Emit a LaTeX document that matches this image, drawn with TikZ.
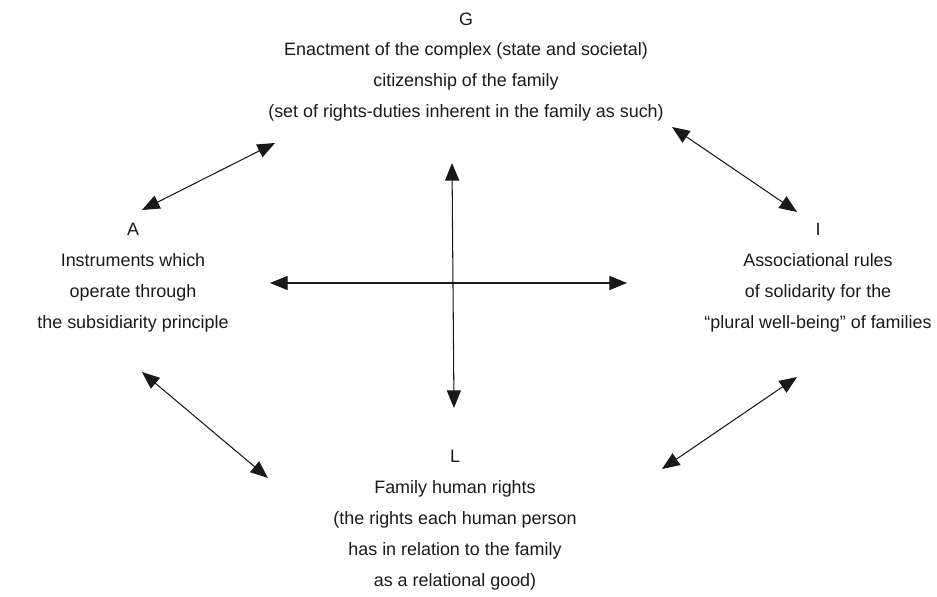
\documentclass[tikz,border=0pt]{standalone}
\usepackage{fontspec}
\setmainfont{Liberation Sans}
\usetikzlibrary{arrows.meta}
\begin{document}
\begin{tikzpicture}[x=0.02cm,y=-0.02cm,
  lbl/.style={align=center,font=\fontsize{10.2pt}{17.6pt}\selectfont,text=black!90,inner sep=0pt},
  dbl/.style={{Triangle[length=10pt,width=8pt]}-{Triangle[length=10pt,width=8pt]},line width=0.6pt,black!90}]
\useasboundingbox (0,0) rectangle (937,597);
\node[lbl] (G) at (466,67) {G\\Enactment of the complex (state and societal)\\citizenship of the family\\(set of rights-duties inherent in the family as such)};
\node[lbl] (A) at (133,278) {A\\Instruments which\\operate through\\the subsidiarity principle};
\node[lbl] (I) at (818,278) {I\\Associational rules\\of solidarity for the\\“plural well-being” of families};
\node[lbl] (L) at (455,520) {L\\Family human rights\\(the rights each human person\\has in relation to the family\\as a relational good)};
\coordinate (ga1) at (142,210); \coordinate (ga2) at (275,143);
\coordinate (gi1) at (672,127); \coordinate (gi2) at (797,212);
\coordinate (al1) at (142,372); \coordinate (al2) at (268,478);
\coordinate (il1) at (797,377); \coordinate (il2) at (662,469);
\coordinate (v1) at (452,163); \coordinate (v2) at (454,408);
\coordinate (h1) at (270,283); \coordinate (h2) at (627,283);
\draw[dbl] (ga1) -- (ga2);
\draw[dbl] (gi1) -- (gi2);
\draw[dbl] (al1) -- (al2);
\draw[dbl] (il1) -- (il2);
\draw[dbl] (v1) -- (v2);
\draw[dbl] (h1) -- (h2);
\end{tikzpicture}
\end{document}
